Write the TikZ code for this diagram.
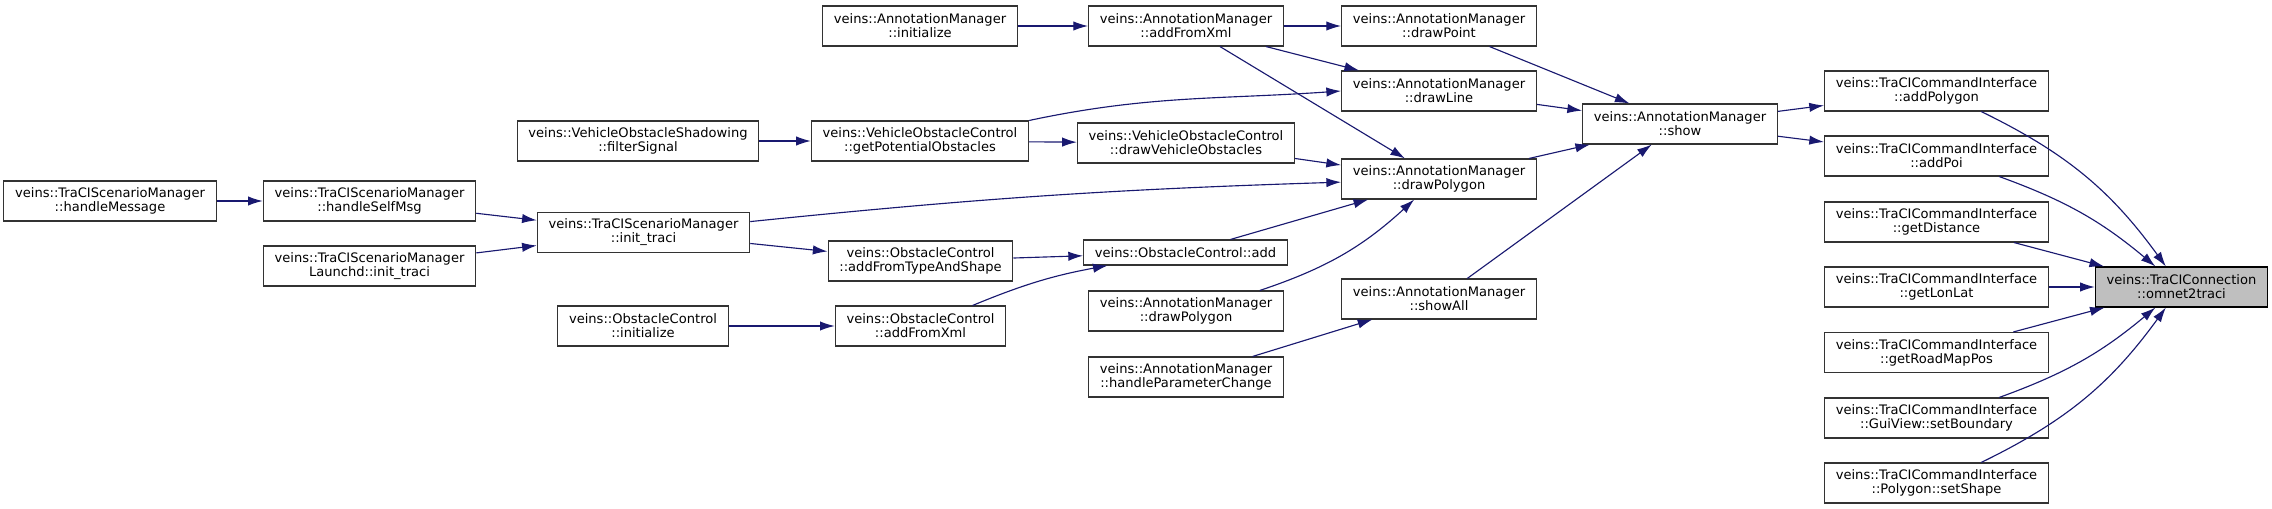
\documentclass[tikz,border=0pt]{standalone}
\usepackage{fontspec}
\setmainfont{DejaVu Sans}
\usetikzlibrary{arrows.meta}
\definecolor{edgeblue}{HTML}{191970}
\definecolor{focusgray}{HTML}{BFBFBF}

\begin{document}
\begin{tikzpicture}[x=0.75pt, y=0.75pt,
  fnbox/.style={rectangle, draw=black!80, line width=0.8pt, fill=white, minimum height=30pt, inner xsep=8.5pt, inner ysep=2pt, align=center, font=\fontsize{9.8}{10.5}\selectfont},
  arr/.style={-{Latex[length=11pt,width=7pt]}, line width=0.85pt, edgeblue}
]
  \useasboundingbox (0,0) rectangle (2272,-509);

  \node[fnbox] (handleMsg) at (110,-201) {veins::TraCIScenarioManager\\::handleMessage};
  \node[fnbox] (selfMsg) at (369.5,-201) {veins::TraCIScenarioManager\\::handleSelfMsg};
  \node[fnbox] (launchd) at (369.5,-266) {veins::TraCIScenarioManager\\Launchd::init\_traci};
  \node[fnbox] (initTraci) at (643.5,-232.5) {veins::TraCIScenarioManager\\::init\_traci};
  \node[fnbox] (filterSig) at (638,-141) {veins::VehicleObstacleShadowing\\::filterSignal};
  \node[fnbox] (ocInit) at (643,-326) {veins::ObstacleControl\\::initialize};

  \node[fnbox] (amInit) at (920,-26) {veins::AnnotationManager\\::initialize};
  \node[fnbox] (getPotObs) at (920,-141) {veins::VehicleObstacleControl\\::getPotentialObstacles};
  \node[fnbox] (addTypeShape) at (920.5,-261) {veins::ObstacleControl\\::addFromTypeAndShape};
  \node[fnbox] (ocAddXml) at (920.5,-326) {veins::ObstacleControl\\::addFromXml};

  \node[fnbox] (amAddXml) at (1186,-26) {veins::AnnotationManager\\::addFromXml};
  \node[fnbox] (drawVehObs) at (1186,-143) {veins::VehicleObstacleControl\\::drawVehicleObstacles};
  \node[fnbox, minimum height=18.75pt] (ocAdd) at (1185.5,-252.5) {veins::ObstacleControl::add};
  \node[fnbox] (drawPolyB) at (1186,-311) {veins::AnnotationManager\\::drawPolygon};
  \node[fnbox] (handleParam) at (1186,-377) {veins::AnnotationManager\\::handleParameterChange};

  \node[fnbox] (drawPoint) at (1439,-26) {veins::AnnotationManager\\::drawPoint};
  \node[fnbox] (drawLine) at (1439,-91) {veins::AnnotationManager\\::drawLine};
  \node[fnbox] (drawPoly) at (1439,-179) {veins::AnnotationManager\\::drawPolygon};
  \node[fnbox] (showAll) at (1439,-299) {veins::AnnotationManager\\::showAll};

  \node[fnbox] (show) at (1680,-124) {veins::AnnotationManager\\::show};

  \node[fnbox] (addPolygon) at (1936.5,-91) {veins::TraCICommandInterface\\::addPolygon};
  \node[fnbox] (addPoi) at (1936.5,-156) {veins::TraCICommandInterface\\::addPoi};
  \node[fnbox] (getDist) at (1936.5,-222) {veins::TraCICommandInterface\\::getDistance};
  \node[fnbox] (getLonLat) at (1936.5,-287) {veins::TraCICommandInterface\\::getLonLat};
  \node[fnbox] (getRoadMap) at (1936.5,-352.5) {veins::TraCICommandInterface\\::getRoadMapPos};
  \node[fnbox] (setBoundary) at (1936.5,-418) {veins::TraCICommandInterface\\::GuiView::setBoundary};
  \node[fnbox] (setShape) at (1936.5,-483) {veins::TraCICommandInterface\\::Polygon::setShape};

  \node[fnbox, fill=focusgray, draw=black] (omnet) at (2181.5,-287) {veins::TraCIConnection\\::omnet2traci};

  \draw[arr] (handleMsg) -- (selfMsg);
  \draw[arr] (selfMsg) -- (initTraci);
  \draw[arr] (launchd) -- (initTraci);
  \draw[arr] (initTraci) to[bend left=2] (drawPoly);
  \draw[arr] (initTraci) -- (addTypeShape);
  \draw[arr] (filterSig) -- (getPotObs);
  \draw[arr] (getPotObs.north east) to[out=12,in=184] (drawLine.west);
  \draw[arr] (getPotObs) -- (drawVehObs);
  \draw[arr] (drawVehObs) -- (drawPoly);
  \draw[arr] (amInit) -- (amAddXml);
  \draw[arr] (amAddXml) -- (drawPoint);
  \draw[arr] (amAddXml) -- (drawLine);
  \draw[arr] (amAddXml) -- (drawPoly);
  \draw[arr] (addTypeShape) -- (ocAdd);
  \draw[arr] (ocInit) -- (ocAddXml);
  \draw[arr] (ocAddXml) to[bend left=6] (ocAdd);
  \draw[arr] (ocAdd) -- (drawPoly);
  \draw[arr] (drawPolyB) to[bend right=12] (drawPoly);
  \draw[arr] (handleParam) -- (showAll);
  \draw[arr] (drawPoint) -- (show);
  \draw[arr] (drawLine) -- (show);
  \draw[arr] (drawPoly) -- (show);
  \draw[arr] (showAll) -- (show);
  \draw[arr] (show) -- (addPolygon);
  \draw[arr] (show) -- (addPoi);
  \draw[arr] (addPolygon) to[bend left=14] (omnet);
  \draw[arr] (addPoi) to[bend left=10] (omnet);
  \draw[arr] (getDist) -- (omnet);
  \draw[arr] (getLonLat) -- (omnet);
  \draw[arr] (getRoadMap) -- (omnet);
  \draw[arr] (setBoundary) to[bend right=10] (omnet);
  \draw[arr] (setShape) to[bend right=14] (omnet);
\end{tikzpicture}
\end{document}
